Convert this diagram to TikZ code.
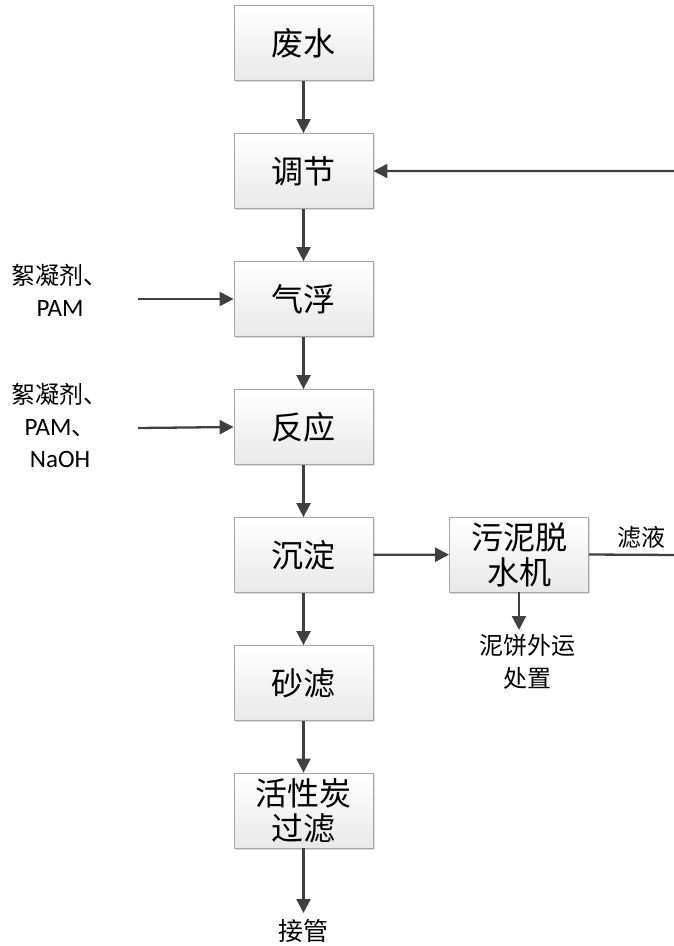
\documentclass[tikz,border=0pt]{standalone}
\usepackage{fontspec}
\newfontfamily\cjk{Noto Sans CJK SC}
\newfontfamily\latn{Carlito}
\usetikzlibrary{arrows.meta,shadows}
\begin{document}
\begin{tikzpicture}[x=1pt,y=-1pt,
  box/.style={draw=gray!70, line width=0.8pt, top color=white, bottom color=gray!18,
    minimum width=139pt, minimum height=75pt, inner sep=0pt, align=center,
    font=\cjk\fontsize{32}{35}\selectfont,
    drop shadow={shadow xshift=1.5pt, shadow yshift=-1.5pt, fill=gray!45, opacity=0.6}},
  lbl/.style={inner sep=0pt, align=center, font=\cjk\fontsize{24}{32}\selectfont},
  lat/.style={font=\latn\fontsize{25}{32}\selectfont},
  arr/.style={draw=black!75, line width=2.3pt, -{Triangle[length=14pt,width=14pt]}},
  ln/.style={draw=black!75, line width=2.3pt}]
\useasboundingbox (0,0) rectangle (673,946);
\node[box] (fs) at (303.5,43) {废水};
\node[box] (tj) at (303.5,171) {调节};
\node[box] (qf) at (303.5,299) {气浮};
\node[box] (fy) at (303.5,427) {反应};
\node[box] (cd) at (303.5,555) {沉淀};
\node[box] (sl) at (303.5,683) {砂滤};
\node[box] (hx) at (303.5,810.5) {活性炭\\过滤};
\node[box] (ws) at (519,554.5) {污泥脱\\水机};
\node[lbl] (in1) at (60,290) {絮凝剂、\\{\latn\fontsize{25}{32}\selectfont PAM}};
\node[lbl] (in2) at (60,425) {絮凝剂、\\{\latn\fontsize{25}{32}\selectfont PAM}、\\{\latn\fontsize{25}{32}\selectfont NaOH}};
\node[lbl] (ly) at (641,537) {滤液};
\node[lbl, font=\cjk\fontsize{24}{33}\selectfont] (nb) at (527,662) {泥饼外运\\处置};
\node[lbl, font=\cjk\fontsize{25}{30}\selectfont] (jg) at (303.5,931) {接管};
\coordinate (a1) at (138,299);
\coordinate (a2) at (138,428);
\coordinate (nbt) at (519,630);
\coordinate (jgt) at (303.5,913);
\coordinate (rt) at (677,555);
\draw[arr] (fs) -- (tj);
\draw[arr] (tj) -- (qf);
\draw[arr] (qf) -- (fy);
\draw[arr] (fy) -- (cd);
\draw[arr] (cd) -- (sl);
\draw[arr] (sl) -- (hx);
\draw[arr] (hx) -- (jgt);
\draw[arr] (a1) -- (qf.west);
\draw[arr] (a2) -- (fy.west);
\draw[arr] (cd) -- (ws);
\draw[arr] (ws.south) -- (nbt);
\draw[arr] (ws.east) -- (rt) |- (tj.east);
\end{tikzpicture}
\end{document}
